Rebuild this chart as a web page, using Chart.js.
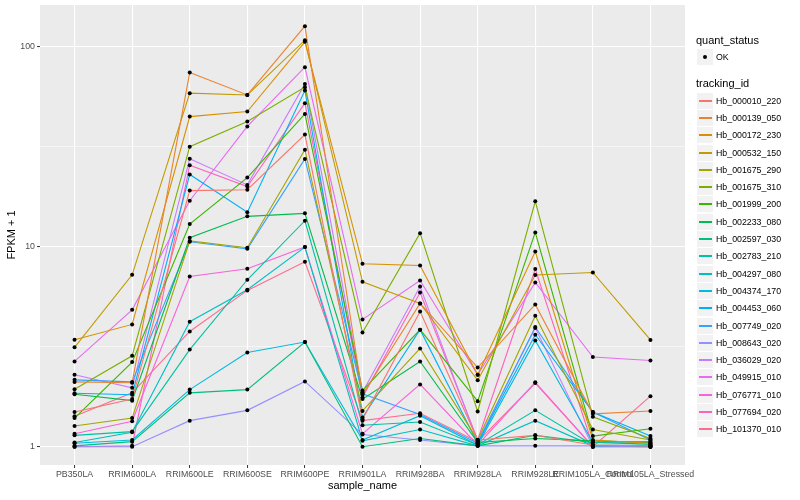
<!DOCTYPE html>
<html>
<head>
<meta charset="utf-8">
<script src="https://cdn.jsdelivr.net/npm/chart.js@4/dist/chart.umd.min.js"></script>
<style>
  body { margin: 0; background: #fff; font-family: "Liberation Sans", Arial, sans-serif; }
  #wrap { position: relative; width: 800px; height: 500px; }
  #legend { position: absolute; left: 0; top: 0; width: 800px; height: 500px; pointer-events: none; }
  .ttl { position: absolute; left: 696px; font-size: 11px; color: #000; line-height: 13px; }
  .key { position: absolute; left: 697px; width: 16px; height: 16px; background: #f2f2f2; }
  .lab { position: absolute; left: 716px; font-size: 8.8px; color: #000; line-height: 10px; }
</style>
</head>
<body>
<div id="wrap">
  <canvas id="fpkmChart" width="800" height="500"></canvas>
  <div id="legend"></div>
</div>
<script>
// samples on the x axis
const samples = ['PB350LA', 'RRIM600LA', 'RRIM600LE', 'RRIM600SE', 'RRIM600PE', 'RRIM901LA',
  'RRIM928BA', 'RRIM928LA', 'RRIM928LE', 'RRIM105LA_Control', 'RRIM105LA_Stressed'];

// FPKM + 1 per tracking id
const hb_000010_220 = [1.49, 1.73, 19.1, 19.3, 36.4, 1.37, 4.75, 1.08, 1.14, 1.02, 1.01];
const hb_000139_050 = [2.11, 2.09, 74.4, 57.5, 127, 1.82, 5.21, 2.49, 5.15, 1.46, 1.51];
const hb_000172_230 = [3.43, 4.09, 44.8, 47.5, 106, 8.22, 8.06, 2.29, 9.47, 1.08, 1.04];
const hb_000532_150 = [3.14, 7.24, 58.7, 57.5, 108, 6.68, 5.21, 2.15, 7.22, 7.44, 3.42];
const hb_001675_290 = [1.27, 1.39, 10.7, 9.89, 30.6, 1.51, 3.10, 1.08, 4.52, 1.22, 1.08];
const hb_001675_310 = [1.94, 2.85, 31.7, 42.3, 62.9, 3.73, 11.7, 1.50, 16.9, 1.41, 1.10];
const hb_001999_200 = [1.39, 2.65, 13.0, 22.2, 46.2, 1.91, 3.85, 1.69, 11.8, 1.13, 1.23];
const hb_002233_080 = [1.83, 1.70, 11.1, 14.2, 14.7, 1.73, 2.67, 1.05, 1.10, 1.07, 1.05];
const hb_002597_030 = [1.01, 1.06, 1.86, 1.93, 3.34, 1.00, 1.10, 1.01, 1.14, 1.05, 1.03];
const hb_002783_210 = [1.14, 1.19, 3.06, 6.84, 13.5, 1.28, 1.33, 1.02, 1.52, 1.02, 1.01];
const hb_004297_080 = [1.05, 1.18, 4.22, 6.10, 9.97, 1.07, 1.22, 1.01, 1.35, 1.01, 1.02];
const hb_004374_170 = [1.04, 1.08, 1.93, 2.96, 3.34, 1.08, 1.43, 1.02, 3.40, 1.05, 1.06];
const hb_004453_060 = [1.85, 1.82, 23.0, 14.9, 60.5, 1.40, 3.85, 1.04, 3.63, 1.49, 1.13];
const hb_007749_020 = [2.16, 2.11, 10.6, 9.77, 27.5, 1.84, 1.45, 1.04, 3.97, 1.49, 1.08];
const hb_008643_020 = [1.00, 1.00, 1.35, 1.52, 2.12, 1.15, 1.08, 1.01, 1.01, 1.01, 1.00];
const hb_036029_020 = [2.29, 1.97, 27.6, 20.4, 65.3, 1.87, 6.33, 1.06, 3.93, 1.00, 1.00];
const hb_049915_010 = [2.67, 4.84, 17.0, 40.0, 79.2, 4.33, 6.78, 2.29, 6.63, 2.81, 2.70];
const hb_076771_010 = [1.16, 1.34, 7.10, 7.76, 9.97, 1.16, 2.05, 1.02, 2.10, 1.00, 1.00];
const hb_077694_020 = [1.00, 1.01, 25.6, 20.0, 52.3, 1.77, 5.91, 1.08, 7.74, 1.01, 1.00];
const hb_101370_010 = [1.42, 1.86, 3.77, 6.05, 8.41, 1.35, 1.47, 1.06, 2.08, 1.00, 1.79];

const trackingIds = ['Hb_000010_220', 'Hb_000139_050', 'Hb_000172_230', 'Hb_000532_150', 'Hb_001675_290',
  'Hb_001675_310', 'Hb_001999_200', 'Hb_002233_080', 'Hb_002597_030', 'Hb_002783_210', 'Hb_004297_080',
  'Hb_004374_170', 'Hb_004453_060', 'Hb_007749_020', 'Hb_008643_020', 'Hb_036029_020', 'Hb_049915_010',
  'Hb_076771_010', 'Hb_077694_020', 'Hb_101370_010'];
const seriesValues = [hb_000010_220, hb_000139_050, hb_000172_230, hb_000532_150, hb_001675_290,
  hb_001675_310, hb_001999_200, hb_002233_080, hb_002597_030, hb_002783_210, hb_004297_080,
  hb_004374_170, hb_004453_060, hb_007749_020, hb_008643_020, hb_036029_020, hb_049915_010,
  hb_076771_010, hb_077694_020, hb_101370_010];

// y axis breaks
const yTicks = [1, 10, 100];
const yMinor = [3.1623, 31.623];

// ggplot hue palette, 20 levels
const colors = ['#F8766D', '#EA8331', '#D89000', '#C09B00', '#A3A500', '#7CAE00', '#39B600', '#00BB4E',
  '#00BF7D', '#00C1A3', '#00BFC4', '#00BAE0', '#00B0F6', '#35A2FF', '#9590FF', '#C77CFF', '#E76BF3',
  '#FA62DB', '#FF62BC', '#FF6C91'];

const lineSets = seriesValues.map((vals, s) => ({
  type: 'line',
  label: trackingIds[s],
  data: vals.map((v, i) => ({ x: i, y: v })),
  borderColor: colors[s],
  borderWidth: 1.1,
  pointRadius: 0,
  tension: 0,
  fill: false,
  order: 2
}));

const pointSet = {
  type: 'scatter',
  label: 'OK',
  data: seriesValues.flatMap(vals => vals.map((v, i) => ({ x: i, y: v }))),
  backgroundColor: '#000',
  borderWidth: 0,
  pointRadius: 2,
  order: 1
};

// grey panel like ggplot
const panelBg = {
  id: 'panelBg',
  beforeDraw(chart) {
    const { ctx, chartArea: a } = chart;
    ctx.save();
    ctx.fillStyle = '#EBEBEB';
    ctx.fillRect(a.left, a.top, a.right - a.left, a.bottom - a.top);
    ctx.restore();
  }
};

const tickFont = { family: '"Liberation Sans", Arial, sans-serif', size: 8.8 };
const titleFont = { family: '"Liberation Sans", Arial, sans-serif', size: 11 };

function noPad(sc) {
  sc.paddingTop = 0; sc.paddingBottom = 0; sc.paddingLeft = 0; sc.paddingRight = 0;
}

new Chart(document.getElementById('fpkmChart').getContext('2d'), {
  data: { datasets: [...lineSets, pointSet] },
  options: {
    responsive: false,
    animation: false,
    layout: { padding: { top: 5, right: 115, bottom: 0, left: 0 } },
    plugins: { legend: { display: false }, tooltip: { enabled: false } },
    scales: {
      x: {
        type: 'linear',
        min: -0.6,
        max: 10.6,
        afterBuildTicks: sc => { sc.ticks = samples.map((_, i) => ({ value: i })); },
        afterFit: sc => { sc.height = 35; noPad(sc); },
        ticks: {
          autoSkip: false, maxRotation: 0, minRotation: 0, padding: 1,
          color: '#4D4D4D', font: tickFont,
          callback: v => samples[v]
        },
        grid: { color: '#fff', lineWidth: 1.1, tickLength: 3, tickColor: '#333', tickWidth: 1 },
        border: { display: false },
        title: { display: true, text: 'sample_name', color: '#000', font: titleFont, padding: { top: 2, bottom: 7 } }
      },
      y: {
        type: 'logarithmic',
        min: 0.81,
        max: 162,
        afterBuildTicks: sc => {
          sc.ticks = [...yTicks, ...yMinor].sort((a, b) => a - b).map(v => ({ value: v }));
        },
        afterFit: sc => { sc.width = 40; noPad(sc); },
        ticks: {
          padding: 2, color: '#4D4D4D', font: tickFont,
          callback: v => yTicks.includes(v) ? String(v) : ''
        },
        grid: {
          color: '#fff',
          lineWidth: c => yTicks.includes(c.tick && c.tick.value) ? 1.1 : 0.55,
          tickLength: 3,
          tickColor: c => yTicks.includes(c.tick && c.tick.value) ? '#333' : 'rgba(0,0,0,0)',
          tickWidth: 1
        },
        border: { display: false },
        title: { display: true, text: 'FPKM + 1', color: '#000', font: titleFont, padding: { top: 5, bottom: 0 } }
      }
    }
  },
  plugins: [panelBg]
});

// legend, drawn as html
const legend = document.getElementById('legend');
function add(cls, top, text) {
  const d = document.createElement('div');
  d.className = cls;
  d.style.top = top + 'px';
  if (text) d.textContent = text;
  legend.appendChild(d);
  return d;
}
add('ttl', 34, 'quant_status');
const okKey = add('key', 49);
okKey.innerHTML = '<div style="position:absolute;left:6px;top:6px;width:4px;height:4px;border-radius:2px;background:#000"></div>';
add('lab', 52, 'OK');
add('ttl', 77, 'tracking_id');
trackingIds.forEach((id, s) => {
  const top = Math.round(92.6 + s * 17.3);
  const k = add('key', top);
  k.innerHTML = '<div style="position:absolute;left:2px;top:7px;width:13px;height:2px;background:' + colors[s] + '"></div>';
  add('lab', top + 3, id);
});
</script>
</body>
</html>
